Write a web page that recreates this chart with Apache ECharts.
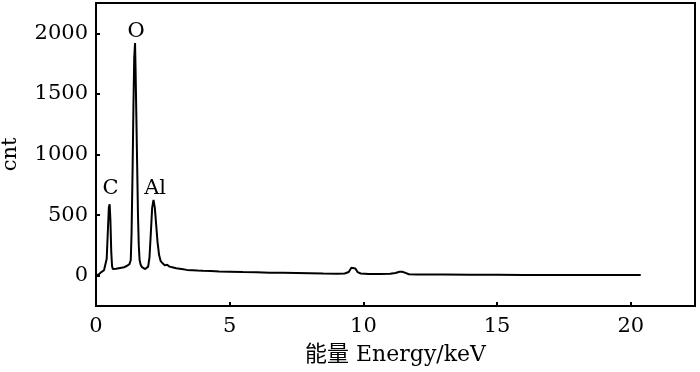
<!DOCTYPE html>
<html>
<head>
<meta charset="utf-8">
<script src="https://cdn.jsdelivr.net/npm/echarts@6/dist/echarts.min.js"></script>
<style>html,body{margin:0;padding:0;background:#fff}#c{width:700px;height:372px}</style>
</head>
<body>
<div id="c"></div>
<script>
// Energy (keV) and counts
const energy = [0.00,0.05,0.10,0.15,0.20,0.25,0.30,0.35,0.40,0.44,0.48,0.51,0.54,0.57,0.60,0.63,0.68,0.75,0.80,0.85,0.90,0.95,1.00,1.05,1.10,1.15,1.20,1.25,1.30,1.33,1.37,1.40,1.43,1.46,1.48,1.51,1.54,1.57,1.60,1.63,1.67,1.72,1.78,1.84,1.90,1.95,2.00,2.05,2.10,2.15,2.20,2.25,2.30,2.36,2.42,2.50,2.58,2.66,2.75,2.85,3.0,3.2,3.4,3.6,3.8,4.0,4.3,4.6,5.0,5.5,6.0,6.5,7.0,7.5,8.0,8.5,9.0,9.3,9.45,9.55,9.62,9.70,9.78,9.9,10.2,10.6,11.0,11.2,11.35,11.45,11.55,11.7,12.0,13,14,15,16,17,18,19,20,20.37];
const counts = [5,0,10,25,30,40,45,60,140,350,560,590,450,200,80,55,60,58,65,62,70,66,72,70,75,80,85,95,130,350,900,1400,1800,1920,1700,1300,900,500,250,130,90,70,58,55,60,75,150,350,560,626,560,420,280,170,120,100,85,90,75,70,62,55,48,45,42,40,38,35,33,30,28,25,24,22,20,18,17,18,30,65,80,60,30,18,15,14,16,22,32,33,25,12,10,9,8,7,6,6,5,5,5,5];
const xTicks = [0,5,10,15,20];
const yTicks = [0,500,1000,1500,2000];
const peakNames = ['C','O','Al'];
const peakLabelPos = [[0.54,717],[1.50,2014],[2.21,717]];

const font = "'DejaVu Serif','Noto Sans CJK SC',serif";
const chart = echarts.init(document.getElementById('c'), null, {renderer:'canvas'});
chart.setOption({
  animation:false,
  grid:{left:96,right:5,top:3,bottom:66,outerBoundsMode:'none',containLabel:false,show:true,borderColor:'#000',borderWidth:2,backgroundColor:'transparent'},
  xAxis:{
    type:'value',min:0,max:22.4,
    name:'能量 Energy/keV',nameLocation:'middle',nameGap:38,
    nameTextStyle:{fontFamily:font,fontSize:22,color:'#000'},
    axisLine:{show:true,onZero:false,lineStyle:{color:'#000',width:2}},
    axisTick:{show:true,inside:true,length:4,customValues:xTicks,lineStyle:{color:'#000',width:2}},
    axisLabel:{customValues:xTicks,formatter:v=>String(v),fontFamily:font,fontSize:21,color:'#000',margin:10},
    splitLine:{show:false}
  },
  yAxis:{
    type:'value',min:-250,max:2250,
    name:'cnt',nameLocation:'middle',nameGap:75,nameRotate:90,
    nameTextStyle:{fontFamily:font,fontSize:21,color:'#000'},
    axisLine:{show:true,onZero:false,lineStyle:{color:'#000',width:2}},
    axisTick:{show:true,inside:true,length:4,customValues:yTicks,lineStyle:{color:'#000',width:2}},
    axisLabel:{customValues:yTicks,formatter:v=>String(v),fontFamily:font,fontSize:21,color:'#000',margin:8},
    splitLine:{show:false}
  },
  series:[
    {type:'line',data:energy.map((e,i)=>[e,counts[i]]),showSymbol:false,symbol:'none',
     lineStyle:{color:'#000',width:2},z:3},
    {type:'scatter',symbolSize:0,z:4,itemStyle:{color:'#000',opacity:1},
     data:peakNames.map((n,i)=>({name:n,value:peakLabelPos[i]})),
     label:{show:true,position:'inside',formatter:'{b}',fontFamily:font,fontSize:21,color:'#000',opacity:1,textBorderWidth:0}}
  ]
});
</script>
</body>
</html>
